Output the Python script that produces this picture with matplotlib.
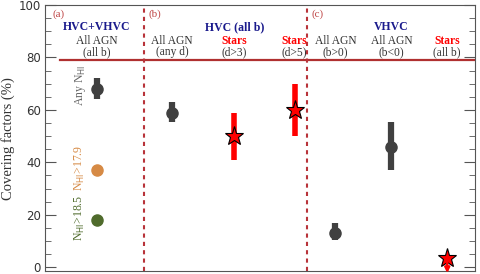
import matplotlib.pyplot as plt

# data
agn_x = [1.2, 2.95, 6.75, 8.05]
agn_y = [68, 59, 13, 46]
agn_lo = [64, 55.5, 10.5, 37]
agn_hi = [72, 63, 17, 55.5]

nh_x = [1.2, 1.2]
nh_y = [37, 18]
nh_colors = ['#d68a45', '#4f6b2c']

star_x = [4.4, 5.8]
star_y = [50, 60]
star_lo = [41, 50]
star_hi = [59, 70]

lim_x = 9.35
lim_y = 3.5

gray = '#404040'
dred = '#b8333a'

fig, ax = plt.subplots(figsize=(4.8, 2.74), dpi=100)
fig.subplots_adjust(left=0.094, right=0.99, top=0.982, bottom=0.01)

ax.set_xlim(0, 10)
ax.set_ylim(-1.5, 100)
ax.set_xticks([])
ax.set_yticks(range(0, 101, 20))
ax.set_yticks(range(0, 101, 5), minor=True)
ax.tick_params(axis='y', which='both', direction='in', right=True, labelsize=8.5,
               colors='#555555', labelcolor='#333333', pad=3)
ax.tick_params(axis='y', which='major', length=8)
ax.tick_params(axis='y', which='minor', length=4)
for s in ax.spines.values():
    s.set_color('#555555')
ax.set_ylabel('Covering factors (%)', fontsize=10.5, family='Liberation Serif', color='#333333')
ax.yaxis.set_label_coords(-0.07, 0.5)

ax.plot([0.35, 10], [79, 79], color='#b03030', lw=1.6)
for xv in [2.3, 6.1]:
    ax.axvline(xv, color=dred, lw=1.5, ls=(0, (2, 2)))

for i in range(len(agn_x)):
    ax.plot([agn_x[i], agn_x[i]], [agn_lo[i], agn_hi[i]], color=gray, lw=4.5,
            solid_capstyle='butt')
    ax.plot(agn_x[i], agn_y[i], 'o', color=gray, ms=8)

for i in range(len(nh_x)):
    ax.plot(nh_x[i], nh_y[i], 'o', color=nh_colors[i], ms=8)

for i in range(len(star_x)):
    ax.plot([star_x[i], star_x[i]], [star_lo[i], star_hi[i]], color='red', lw=4,
            solid_capstyle='butt')
    ax.plot(star_x[i], star_y[i], '*', color='red', mec='black', mew=0.8, ms=14)

ax.plot(lim_x, lim_y, '*', color='red', mec='black', mew=0.8, ms=14)
ax.annotate('', xy=(lim_x, -2.2), xytext=(lim_x, 1.8),
            arrowprops=dict(arrowstyle='-|>', color='red', lw=1.8, mutation_scale=7,
                            shrinkA=0, shrinkB=0),
            annotation_clip=False, zorder=5)

sf = 'Liberation Serif'
for xt, lab in [(0.16, '(a)'), (2.4, '(b)'), (6.2, '(c)')]:
    ax.text(xt, 96.3, lab, color='#c04848', fontsize=8, family=sf, va='center')

for xc, t in [(1.2, 'HVC+VHVC'), (4.4, 'HVC (all b)'), (8.05, 'VHVC')]:
    ax.text(xc, 91.6, t, color='#1a1a8c', fontsize=8.5, family=sf,
            ha='center', va='center', weight='bold')

cols = [(1.2, 'All AGN', '(all b)', '#333333'),
        (2.95, 'All AGN', '(any d)', '#333333'),
        (4.4, 'Stars', '(d>3)', 'red'),
        (5.8, 'Stars', '(d>5)', 'red'),
        (6.75, 'All AGN', '(b>0)', '#333333'),
        (8.05, 'All AGN', '(b<0)', '#333333'),
        (9.35, 'Stars', '(all b)', 'red')]
for xc, t1, t2, c in cols:
    ax.text(xc, 86.2, t1, color=c, fontsize=8.3, family=sf, ha='center', va='center',
            weight='bold' if c == 'red' else 'normal')
    ax.text(xc, 82.0, t2, color='#333333', fontsize=8.3, family=sf, ha='center', va='center')

ax.text(0.82, 69.5, r'Any N$_{\rm HI}$', rotation=90, color='#666666', fontsize=8.5,
        family=sf, ha='center', va='center')
ax.text(0.82, 38, r'N$_{\rm HI}$>17.9', rotation=90, color='#d68a45', fontsize=8.5,
        family=sf, ha='center', va='center')
ax.text(0.82, 19, r'N$_{\rm HI}$>18.5', rotation=90, color='#4f6b2c', fontsize=8.5,
        family=sf, ha='center', va='center')

plt.savefig('out.png')
